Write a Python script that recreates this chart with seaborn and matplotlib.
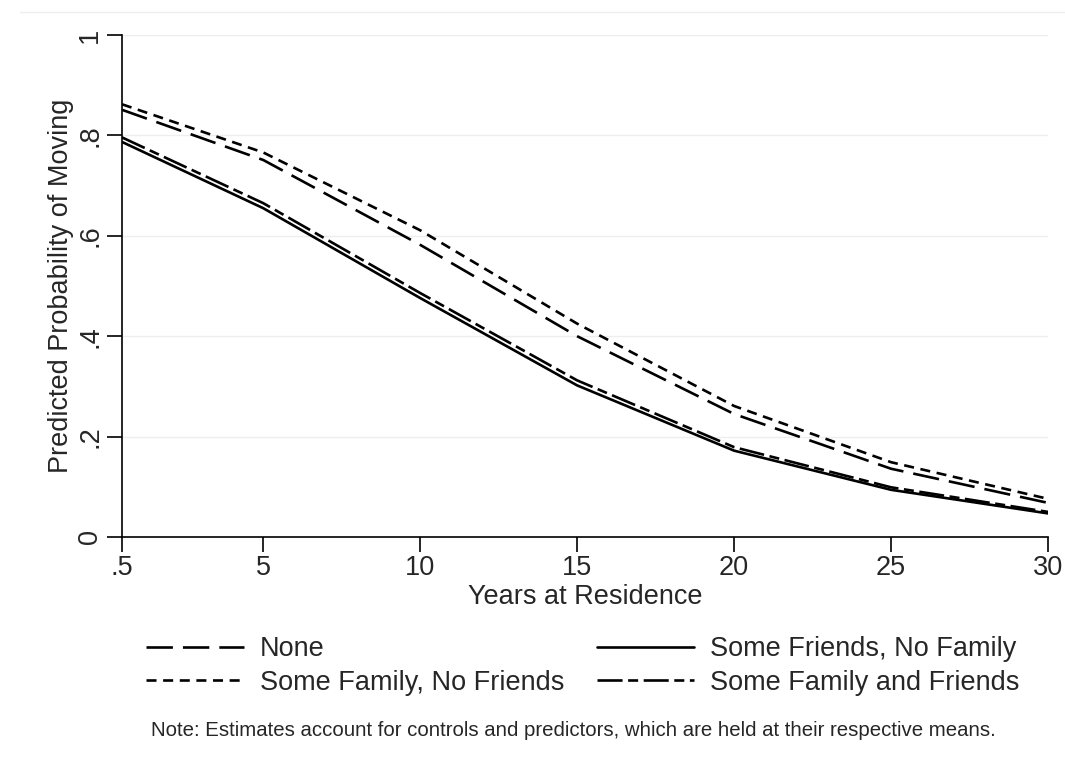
import matplotlib
matplotlib.use("Agg")
import matplotlib.pyplot as plt
import seaborn as sns
import pandas as pd
from matplotlib.lines import Line2D

years = [0.5, 5, 10, 15, 20, 25, 30]
none_vals = [0.851, 0.751, 0.582, 0.400, 0.245, 0.136, 0.068]
fam_no_friends = [0.862, 0.766, 0.611, 0.425, 0.261, 0.149, 0.076]
friends_no_fam = [0.787, 0.655, 0.476, 0.302, 0.172, 0.094, 0.047]
fam_and_friends = [0.796, 0.665, 0.486, 0.312, 0.179, 0.099, 0.050]

groups = ["None", "Some Family, No Friends", "Some Friends, No Family", "Some Family and Friends"]
series = [none_vals, fam_no_friends, friends_no_fam, fam_and_friends]

xtick_vals = [0.5, 5, 10, 15, 20, 25, 30]
xtick_labels = [".5", "5", "10", "15", "20", "25", "30"]
ytick_vals = [0, 0.2, 0.4, 0.6, 0.8, 1.0]
ytick_labels = ["0", ".2", ".4", ".6", ".8", "1"]

rows = []
for g, vals in zip(groups, series):
    for x, y in zip(years, vals):
        rows.append({"Years": x, "Prob": y, "Group": g})
df = pd.DataFrame(rows)

sns.set_theme(style="white")
plt.rcParams["font.family"] = ["Liberation Sans", "DejaVu Sans"]

FS = 19.5
LW = 1.9

fig = plt.figure(figsize=(10.65, 7.69), dpi=100)
ax = fig.add_axes([122 / 1065, 1 - 537 / 769, (1048 - 122) / 1065, (537 - 35) / 769])

dashes = {
    "None": (10, 3.8),
    "Some Family, No Friends": (3.8, 2.5),
    "Some Friends, No Family": "",
    "Some Family and Friends": (9.5, 2.1, 3.8, 2.1),
}

sns.lineplot(data=df, x="Years", y="Prob", hue="Group", style="Group",
             hue_order=groups, style_order=groups,
             palette=["black"] * 4, dashes=dashes, linewidth=LW,
             ax=ax, legend=False)

for y in ytick_vals:
    ax.axhline(y, color="#eeeeee", lw=1, zorder=0)

ax.set_xlim(0.5, 30)
ax.set_ylim(0, 1)
ax.set_xticks(xtick_vals)
ax.set_xticklabels(xtick_labels, fontsize=FS)
ax.set_yticks(ytick_vals)
ax.set_yticklabels(ytick_labels, fontsize=FS, rotation=90, va="center")
ax.tick_params(axis="both", direction="out", length=11, width=1.2, color="black",
               bottom=True, left=True, pad=2)
ax.tick_params(axis="y", pad=2.5)
for s in ["top", "right"]:
    ax.spines[s].set_visible(False)
for s in ["left", "bottom"]:
    ax.spines[s].set_color("black")
    ax.spines[s].set_linewidth(1.2)

ax.set_xlabel("Years at Residence", fontsize=FS, labelpad=2)
ax.set_ylabel("Predicted Probability of Moving", fontsize=FS, labelpad=2)

handles = []
for g in groups:
    d = dashes[g]
    if d == "":
        h = Line2D([], [], color="black", lw=LW, linestyle="-")
    else:
        h = Line2D([], [], color="black", lw=LW, linestyle=(0, d))
    handles.append(h)

fig.legend(handles, groups, ncol=2, loc="center", bbox_to_anchor=(583 / 1065, 1 - 666 / 769),
           frameon=False, fontsize=FS, handlelength=3.6, handletextpad=0.6,
           columnspacing=1.2, labelspacing=0.28)

fig.text(573 / 1065, 1 - 731 / 769,
         "Note: Estimates account for controls and predictors, which are held at their respective means.",
         ha="center", va="center", fontsize=14.7)

fig.add_artist(Line2D([20 / 1065, 1], [1 - 12 / 769, 1 - 12 / 769], color="#eeeeee", lw=1,
                      transform=fig.transFigure))

fig.savefig("out.png", dpi=100, facecolor="white")
